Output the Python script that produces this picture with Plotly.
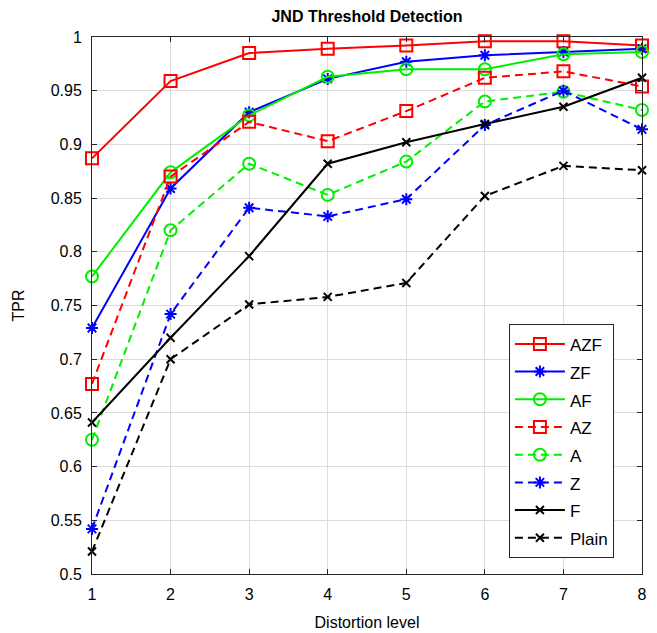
import plotly.graph_objects as go

levels = [1, 2, 3, 4, 5, 6, 7, 8]
azf = [0.887, 0.959, 0.985, 0.989, 0.992, 0.996, 0.996, 0.992]
zf = [0.729, 0.859, 0.930, 0.961, 0.977, 0.983, 0.986, 0.989]
af = [0.777, 0.874, 0.927, 0.963, 0.970, 0.970, 0.984, 0.986]
az = [0.677, 0.870, 0.921, 0.903, 0.931, 0.962, 0.968, 0.954]
a = [0.625, 0.820, 0.882, 0.853, 0.884, 0.940, 0.949, 0.932]
z = [0.542, 0.742, 0.841, 0.833, 0.849, 0.918, 0.950, 0.914]
f = [0.641, 0.720, 0.796, 0.882, 0.902, 0.919, 0.935, 0.962]
plain = [0.521, 0.700, 0.751, 0.758, 0.771, 0.852, 0.880, 0.876]

y_ticks = [0.5, 0.55, 0.6, 0.65, 0.7, 0.75, 0.8, 0.85, 0.9, 0.95, 1.0]
y_tick_labels = ["0.5", "0.55", "0.6", "0.65", "0.7", "0.75", "0.8", "0.85", "0.9", "0.95", "1"]

series = [
    ("AZF", azf, "#ff0000", "solid", "square-open", 12),
    ("ZF", zf, "#0000ff", "solid", "asterisk-open", 10),
    ("AF", af, "#00ee00", "solid", "circle-open", 12),
    ("AZ", az, "#ff0000", "8px,5px", "square-open", 12),
    ("A", a, "#00ee00", "8px,5px", "circle-open", 12),
    ("Z", z, "#0000ff", "8px,5px", "asterisk-open", 10),
    ("F", f, "#000000", "solid", "x-thin-open", 8),
    ("Plain", plain, "#000000", "8px,5px", "x-thin-open", 8),
]

fig = go.Figure()
for name, vals, color, dash, sym, size in series:
    fig.add_trace(go.Scatter(
        x=levels, y=vals, name="<span style='font-size:17px'>" + name + "</span>",
        mode="lines+markers",
        line=dict(color=color, width=2, dash=dash),
        marker=dict(symbol=sym, size=size, color=color, line=dict(color=color, width=2)),
        cliponaxis=False,
    ))

font_family = "Liberation Sans, Arial, sans-serif"
W, H = 657, 633
fig.update_layout(
    width=W, height=H,
    margin=dict(l=92, r=15, t=37, b=59),
    paper_bgcolor="white", plot_bgcolor="white",
    font=dict(family=font_family, size=16, color="#000000"),
    title=dict(text="<b>JND Threshold Detection</b>", x=(92 + 642) / 2 / W, xanchor="center",
               y=1 - 16 / H, yanchor="middle", font=dict(size=16, family=font_family)),
    showlegend=True,
    legend=dict(x=0.758, y=0.4655, xanchor="left", yanchor="top",
                bgcolor="white", bordercolor="#262626", borderwidth=1,
                font=dict(size=19, family=font_family), tracegroupgap=0, itemwidth=50),
)
fig.update_xaxes(
    range=[1, 8], tickvals=levels, ticks="inside", ticklen=5, tickcolor="#262626",
    showgrid=True, gridcolor="#dcdcdc", gridwidth=1,
    showline=True, linecolor="#262626", linewidth=1, mirror="ticks",
    zeroline=False, automargin=False,
    title=dict(text="Distortion level", font=dict(size=16), standoff=14),
    tickfont=dict(size=16), ticklabelstandoff=6,
)
fig.update_yaxes(
    range=[0.5, 1.0], tickvals=y_ticks, ticktext=y_tick_labels, ticks="inside", ticklen=5,
    tickcolor="#262626",
    showgrid=True, gridcolor="#dcdcdc", gridwidth=1,
    showline=True, linecolor="#262626", linewidth=1, mirror="ticks",
    zeroline=False, automargin=False,
    title=dict(text="TPR", font=dict(size=16), standoff=22),
    tickfont=dict(size=16), ticklabelstandoff=6,
)
fig.write_html(
    "out.html",
    config={"displayModeBar": False},
    post_script="document.body.style.margin='0';document.body.style.overflow='hidden';",
)
